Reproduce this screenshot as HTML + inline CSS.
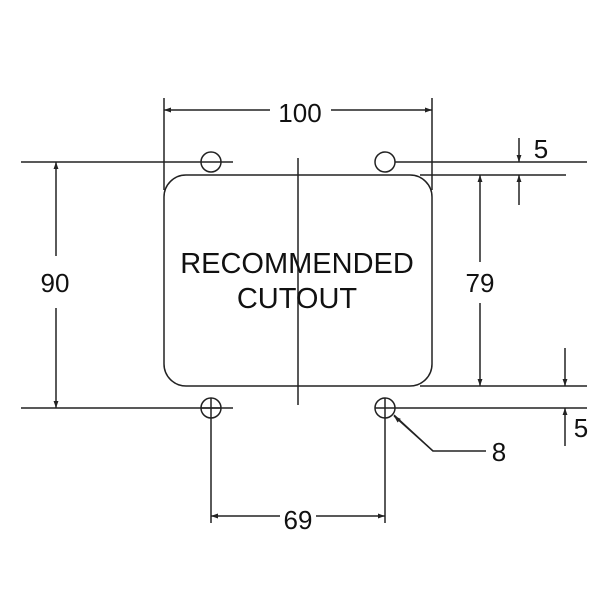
<!DOCTYPE html>
<html><head><meta charset="utf-8"><style>html,body{margin:0;padding:0;background:#fff}svg{display:block}</style></head>
<body>
<svg width="612" height="613" viewBox="0 0 612 613" xmlns="http://www.w3.org/2000/svg">
<defs>
<marker id="a" viewBox="0 0 10 10" refX="10" refY="5" markerWidth="9" markerHeight="7" orient="auto-start-reverse" markerUnits="userSpaceOnUse"><path d="M0,1.5 L10,5 L0,8.5 Z" fill="#222"/></marker>
</defs>
<g stroke="#222" stroke-width="1.5" fill="none">
<rect x="164" y="175" width="268" height="211" rx="22" ry="22"/>
<line x1="298" y1="158" x2="298" y2="405"/>
<line x1="21" y1="162" x2="233" y2="162"/>
<line x1="395" y1="162" x2="587" y2="162"/>
<line x1="420" y1="175" x2="566" y2="175"/>
<line x1="420" y1="386" x2="587" y2="386"/>
<line x1="21" y1="408" x2="233" y2="408"/>
<line x1="395" y1="408" x2="587" y2="408"/>
<circle cx="211" cy="162" r="10"/>
<circle cx="385" cy="162" r="10"/>
<circle cx="211" cy="408" r="10"/>
<circle cx="385" cy="408" r="10"/>
<line x1="211" y1="398" x2="211" y2="523"/>
<line x1="385" y1="398" x2="385" y2="523"/>
<line x1="375" y1="408" x2="395" y2="408"/>
<line x1="201" y1="408" x2="221" y2="408"/>
<line x1="164" y1="98" x2="164" y2="190"/>
<line x1="432" y1="98" x2="432" y2="190"/>
<line x1="270" y1="110" x2="164" y2="110" marker-end="url(#a)"/>
<line x1="331" y1="110" x2="432" y2="110" marker-end="url(#a)"/>
<line x1="56" y1="256" x2="56" y2="162" marker-end="url(#a)"/>
<line x1="56" y1="308" x2="56" y2="408" marker-end="url(#a)"/>
<line x1="480" y1="262" x2="480" y2="175" marker-end="url(#a)"/>
<line x1="480" y1="303" x2="480" y2="386" marker-end="url(#a)"/>
<line x1="519" y1="138" x2="519" y2="162" marker-end="url(#a)"/>
<line x1="519" y1="205" x2="519" y2="175" marker-end="url(#a)"/>
<line x1="565" y1="348" x2="565" y2="386" marker-end="url(#a)"/>
<line x1="565" y1="446" x2="565" y2="408" marker-end="url(#a)"/>
<polyline points="486,451 433,451 394,415" />
<line x1="433" y1="451" x2="394" y2="416" marker-end="url(#a)"/>
<line x1="280" y1="516" x2="211" y2="516" marker-end="url(#a)"/>
<line x1="316" y1="516" x2="385" y2="516" marker-end="url(#a)"/>
</g>
<g font-family="'Liberation Sans', sans-serif" fill="#111" text-anchor="middle">
<text x="300" y="122" font-size="26">100</text>
<text x="55" y="292" font-size="26">90</text>
<text x="480" y="292" font-size="26">79</text>
<text x="541" y="158" font-size="26">5</text>
<text x="581" y="437" font-size="26">5</text>
<text x="499" y="461" font-size="26">8</text>
<text x="298" y="529" font-size="26">69</text>
<text x="297" y="273" font-size="29">RECOMMENDED</text>
<text x="297" y="308" font-size="29">CUTOUT</text>
</g>
</svg>
</body></html>
